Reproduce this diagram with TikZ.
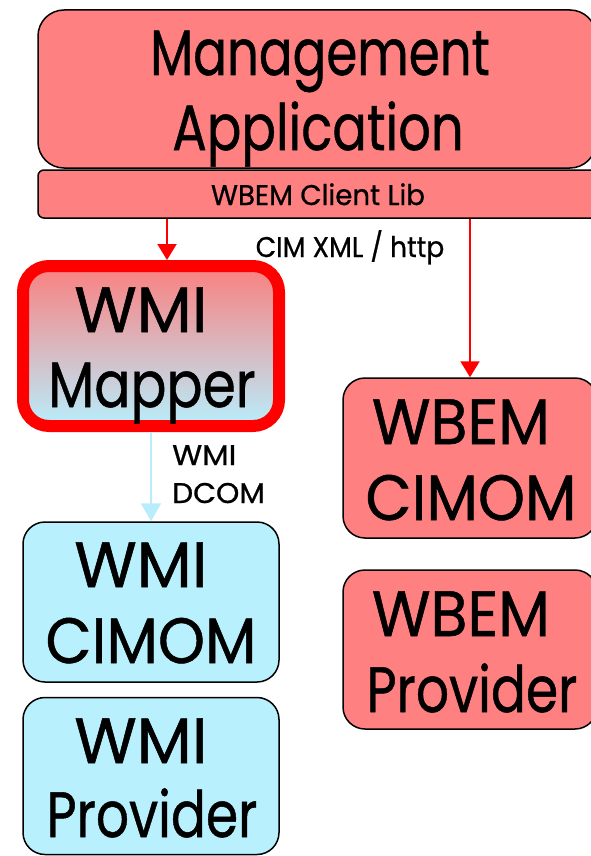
\documentclass[tikz,border=0pt]{standalone}
\usepackage{fontspec}
\usepackage{graphicx}
\setmainfont{Poppins}[FakeBold=0.8]
\usetikzlibrary{arrows.meta}
\definecolor{boxpink}{RGB}{255,128,128}
\definecolor{boxcyan}{RGB}{184,240,253}
\definecolor{mapperTop}{RGB}{250,128,128}
\definecolor{mapperBot}{RGB}{184,238,252}
\definecolor{linkcyan}{RGB}{184,238,252}
\newcommand{\sxw}[2]{\scalebox{#1}[1]{#2}}
\tikzset{
  pinkbox/.style={draw=black, line width=1.5pt, fill=boxpink, rounded corners=22pt, inner sep=0pt},
  cyanbox/.style={draw=black, line width=1.5pt, fill=boxcyan, rounded corners=22pt, inner sep=0pt},
  big/.style={font=\fontsize{64}{64}\selectfont, inner sep=0pt, anchor=base},
  small/.style={font=\fontsize{28.5}{28.5}\selectfont, inner sep=0pt, anchor=base},
  redlink/.style={draw=red, line width=2pt, -{Triangle[width=19pt,length=16pt]}},
  cyanlink/.style={draw=linkcyan, line width=2pt, -{Triangle[width=20pt,length=18pt]}},
}
\begin{document}
\begin{tikzpicture}[x=1pt,y=-1pt]
\useasboundingbox[fill=white] (0,0) rectangle (591,856);
% boxes
\node[pinkbox, rounded corners=26pt, minimum width=558pt, minimum height=158pt] (mgmt) at (317,89) {};
\node[pinkbox, rounded corners=6pt, minimum width=562pt, minimum height=48pt] (bar) at (319,194) {};
\node[draw=red, line width=12pt, rounded corners=26pt, top color=mapperTop, bottom color=mapperBot, minimum width=256pt, minimum height=160pt, inner sep=0pt] (mapper) at (151,346) {};
\node[cyanbox, minimum width=256pt, minimum height=160pt] (wcimom) at (151,602) {};
\node[cyanbox, minimum width=256pt, minimum height=157pt] (wprov) at (151,776) {};
\node[pinkbox, minimum width=254pt, minimum height=160pt] (bcimom) at (470,458) {};
\node[pinkbox, minimum width=254pt, minimum height=159pt] (bprov) at (470,649.5) {};
% texts
\node[big] (t1) at (320,75) {\sxw{0.78}{Management}};
\node[big] (t2) at (318,150) {\sxw{0.80}{Application}};
\node[small] (t3) at (318,205) {\sxw{0.97}{WBEM Client Lib}};
\node[small] (t4) at (350,257) {\sxw{0.93}{CIM XML / http}};
\node[big] (t5) at (141,332) {WMI};
\node[big] (t6) at (152,407) {\sxw{0.835}{Mapper}};
\node[small, anchor=base west] (t7) at (172,465) {\sxw{1.08}{WMI}};
\node[small, anchor=base west] (t8) at (172,503) {\sxw{1.04}{DCOM}};
\node[big] (t9) at (141,587) {WMI};
\node[big] (t10) at (151,663) {\sxw{0.935}{CIMOM}};
\node[big] (t11) at (141,763) {WMI};
\node[big, text depth=0pt] (t12) at (152,837) {\sxw{0.81}{Provider}};
\node[big] (t13) at (461,444) {\sxw{0.94}{WBEM}};
\node[big] (t14) at (471,520) {\sxw{0.935}{CIMOM}};
\node[big] (t15) at (461,636) {\sxw{0.94}{WBEM}};
\node[big, text depth=0pt] (t16) at (472,712) {\sxw{0.81}{Provider}};
% connectors
\draw[redlink] ([xshift=16pt]mapper.north |- bar.south) -- ([xshift=16pt]mapper.north);
\draw[redlink] (bar.south -| bcimom.north) -- (bcimom.north);
\draw[cyanlink] (mapper.south) -- (wcimom.north);
\end{tikzpicture}
\end{document}
